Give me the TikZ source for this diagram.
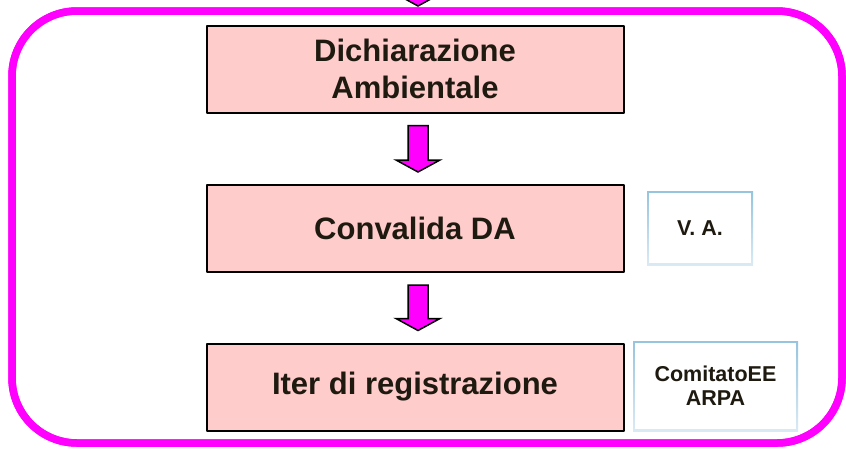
\documentclass[tikz,border=0pt]{standalone}
\usepackage{fontspec}
\setmainfont{Liberation Sans}
\usetikzlibrary{calc}
\definecolor{boxpink}{RGB}{255,204,204}
\definecolor{framemag}{RGB}{255,0,255}
\definecolor{inkdark}{RGB}{30,26,16}
\definecolor{sidetop}{RGB}{150,196,222}
\definecolor{sidebot}{RGB}{218,234,244}
\tikzset{
  stepbox/.style={draw=black, line width=2pt, fill=boxpink, text=inkdark, align=center,
    minimum width=417pt, minimum height=87pt, inner sep=0pt,
    font=\fontsize{31}{37}\selectfont\bfseries},
  sidebox/.style={text=inkdark, align=center, inner sep=0pt,
    font=\fontsize{21.5}{24}\selectfont\bfseries,
    path picture={
      \shade[top color=sidetop, bottom color=sidebot] (path picture bounding box.north west) rectangle (path picture bounding box.south east);
      \fill[white] ([shift={(1.6pt,-1.6pt)}]path picture bounding box.north west) rectangle ([shift={(-1.6pt,1.6pt)}]path picture bounding box.south east);}},
  flow/.style={draw=black, line width=1.5pt, fill=framemag, line join=miter}
}
\def\ax{3pt}
% block arrow: [gap]{from}{to}
\newcommand{\flowarrow}[3][12pt]{%
  \draw[flow] let \p1=(#2), \p2=(#3) in
    (\x1+\ax-10pt,\y1-12pt) -- (\x1+\ax+10pt,\y1-12pt) -- (\x1+\ax+10pt,\y2+#1+12pt)
    -- (\x1+\ax+22pt,\y2+#1+12pt) -- (\x1+\ax,\y2+#1) -- (\x1+\ax-22pt,\y2+#1+12pt)
    -- (\x1+\ax-10pt,\y2+#1+12pt) -- cycle;}
\begin{document}
\begin{tikzpicture}[x=1pt, y=-1pt, line join=round]
\clip (0,0) rectangle (846,448);
\fill[white] (0,0) rectangle (846,448);
% phase frame
\coordinate (feed) at (415,-60);
\node[draw=framemag, line width=7.5pt, rounded corners=65pt, minimum width=830pt, minimum height=432pt] (phase) at (427,227) {};
\flowarrow[1.25pt]{feed}{phase.north}
\node[draw=framemag, line width=7.5pt, rounded corners=65pt, minimum width=830pt, minimum height=432pt] at (phase) {};
% steps
\node[stepbox] (dich) at (415,69) {Dichiarazione\\Ambientale};
\node[stepbox] (conv) at (415,228.5) {Convalida DA};
\node[stepbox] (iter) at (415,387) {Iter di registrazione};
\flowarrow{dich.south}{conv.north}
\flowarrow{conv.south}{iter.north}
% actors
\node[sidebox, minimum width=106pt, minimum height=74pt] (va) at (700,228) {V. A.};
\node[sidebox, minimum width=165pt, minimum height=90pt] (arpa) at (715.5,386) {ComitatoEE\\ARPA};
\end{tikzpicture}
\end{document}
